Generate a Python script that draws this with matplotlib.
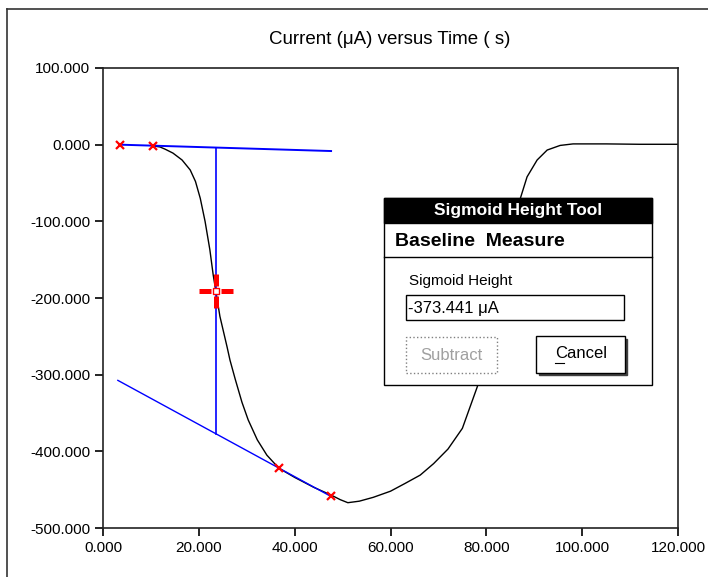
import matplotlib
matplotlib.use("Agg")
import matplotlib.pyplot as plt
from matplotlib.patches import Rectangle
from matplotlib.lines import Line2D
from matplotlib.path import Path

plt.rcParams['font.family'] = ['Liberation Sans', 'DejaVu Sans']

# current trace (uA) against time (s)
time_s = [10.4, 11.9, 13.0, 14.6, 16.5, 18.2, 19.3, 20.3, 21.3, 22.3, 23.0, 23.6,
          24.4, 25.9, 26.5, 27.6, 29.0, 30.3, 32.2, 34.2, 36.7, 40.0, 44.0, 47.6,
          49.5, 51.1, 53.5, 56.4, 60.0, 63.0, 66.2, 69.0, 72.0, 75.0, 78.1, 80.0,
          82.0, 84.0, 86.0, 87.1, 88.5, 90.6, 92.7, 95.4, 98.1, 105.0, 112.0, 120.0]
current_ua = [-1.5, -3, -6, -11, -20, -33, -48, -70, -100, -137, -170, -193,
              -224, -264, -281, -306, -336, -359, -385, -405, -422, -434, -447, -457,
              -463, -467, -465, -460, -452, -442, -431, -416, -397, -370, -316, -275,
              -220, -165, -110, -70, -42, -20, -7, -1, 1, 1, 0.5, 0.5]

# picked baseline points (red crosses)
pick_t = [3.5, 10.4, 36.7, 47.6]
pick_i = [0.0, -1.3, -421.8, -458.9]

upper_span = [3.5, 47.6]
lower_span = [3.1, 47.6]
measure_t = 23.6
sigmoid_height = -373.441

xticks = [0, 20, 40, 60, 80, 100, 120]
yticks = [-500, -400, -300, -200, -100, 0, 100]

W, H = 708, 577
fig = plt.figure(figsize=(W / 100, H / 100), dpi=100)
fig.patch.set_facecolor('white')


def fx(px):
    return px / W


def fy(py):
    return 1 - py / H


ax = fig.add_axes([fx(103), fy(528), fx(678) - fx(103), fy(68) - fy(528)])


def line_through(t0, y0, t1, y1):
    k = (y1 - y0) / (t1 - t0)
    return lambda t: y0 + k * (t - t0)


upper = line_through(pick_t[0], pick_i[0], pick_t[1], pick_i[1])
lower = line_through(pick_t[2], pick_i[2], pick_t[3], pick_i[3])

ax.plot(time_s, current_ua, color='black', lw=1.0, zorder=2)
ax.plot(upper_span, [upper(t) for t in upper_span], color='#0000ff', lw=1.4, zorder=3)
ax.plot(lower_span, [lower(t) for t in lower_span], color='#0000ff', lw=1.0, zorder=3)

top = upper(measure_t)
bot = top + sigmoid_height
ax.plot([measure_t, measure_t], [top, bot], color='#0000ff', lw=1.2, zorder=3)

ax.plot(pick_t, pick_i, ls='none', marker='x', color='red', ms=5.5, mew=1.6, zorder=4)

# crosshair at the middle of the height line
cross = Path([(-1, 0), (-0.32, 0), (0.32, 0), (1, 0),
              (0, -1), (0, -0.32), (0, 0.32), (0, 1)],
             [Path.MOVETO, Path.LINETO, Path.MOVETO, Path.LINETO,
              Path.MOVETO, Path.LINETO, Path.MOVETO, Path.LINETO])
mid = (top + bot) / 2
ax.plot([measure_t], [mid], marker=cross, ms=24, mew=3.6, color='red', ls='none', zorder=5)
ax.plot([measure_t], [mid], marker='s', ms=5, mfc='white', mec='red', mew=1, ls='none', zorder=5)

ax.set_xlim(0, 120)
ax.set_ylim(-500, 100)
ax.set_xticks(xticks)
ax.set_yticks(yticks)
ax.set_xticklabels(['%.3f' % v for v in xticks])
ax.set_yticklabels(['%.3f' % v for v in yticks])
ax.tick_params(direction='out', length=6, width=1.2, labelsize=11, pad=3, colors='black')
for s in ax.spines.values():
    s.set_linewidth(1.2)
    s.set_color('#222222')

fig.text(fx(390), fy(40), 'Current (μA) versus Time ( s)', ha='center', va='center',
         fontsize=13.5)

# window frame
fig.add_artist(Line2D([fx(7), fx(7)], [fy(9), 0], color='#333333', lw=1.2, transform=fig.transFigure))
fig.add_artist(Line2D([fx(7), 1], [fy(9), fy(9)], color='#333333', lw=1.2, transform=fig.transFigure))


def box(x0, y0, x1, y1, **kw):
    r = Rectangle((fx(x0), fy(y1)), fx(x1) - fx(x0), fy(y0) - fy(y1),
                  transform=fig.transFigure, **kw)
    fig.add_artist(r)
    return r


# dialog
box(384, 198, 652, 385, facecolor='white', edgecolor='black', lw=1.0, zorder=10)
box(384, 198, 652, 223, facecolor='black', edgecolor='black', lw=1.0, zorder=11)
fig.add_artist(Line2D([fx(384), fx(652)], [fy(257), fy(257)], color='black', lw=1.0,
                      transform=fig.transFigure, zorder=11))
fig.text(fx(518), fy(211), 'Sigmoid Height Tool', color='white', fontweight='bold',
         fontsize=12.5, ha='center', va='center', zorder=12)
fig.text(fx(395), fy(241), 'Baseline  Measure', color='black', fontweight='bold',
         fontsize=14, ha='left', va='center', zorder=12)
fig.text(fx(409), fy(281), 'Sigmoid Height', fontsize=11, ha='left', va='center', zorder=12)
box(406, 295, 624, 320, facecolor='white', edgecolor='black', lw=1.0, zorder=11)
fig.text(fx(408), fy(308), '-373.441 μA', fontsize=12, ha='left', va='center', zorder=12)

box(406, 337, 497, 373, facecolor='white', edgecolor='#808080', lw=1.0, ls=':', zorder=11)
fig.text(fx(451), fy(355), 'Subtract', fontsize=12, color='#a0a0a0', ha='center',
         va='center', zorder=12)

box(539, 339, 627, 375, facecolor='#404040', edgecolor='#404040', lw=1.0, zorder=11)
box(536, 336, 625, 373, facecolor='white', edgecolor='black', lw=1.0, zorder=11)
fig.text(fx(555), fy(354), 'Cancel', fontsize=12, ha='left', va='center', zorder=12)
fig.add_artist(Line2D([fx(555), fx(564)], [fy(363), fy(363)], color='black', lw=0.8,
                      transform=fig.transFigure, zorder=12))

fig.savefig('out.png', dpi=100)
